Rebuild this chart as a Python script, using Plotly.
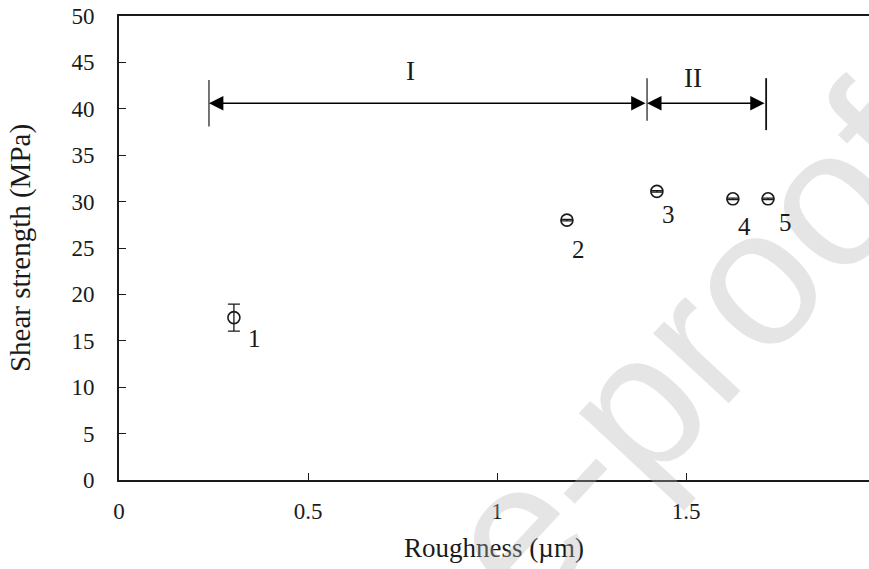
import plotly.graph_objects as go

# ---- data ----
roughness = [0.304, 1.185, 1.423, 1.624, 1.717]
shear_strength = [17.5, 28.0, 31.1, 30.3, 30.3]
shear_error = [1.45, 0.08, 0.08, 0.08, 0.08]
point_labels = ["1", "2", "3", "4", "5"]
label_dx = [0.055, 0.03, 0.03, 0.03, 0.045]
label_dy = [-2.2, -3.2, -2.5, -3.0, -2.6]

region_bounds = [0.238, 1.397, 1.712]
region_bar_low = [38.1, 38.7, 37.7]
region_bar_high = [43.1, 43.3, 43.3]
arrow_y = 40.6
region_names = ["I", "II"]
region_label_x = [0.77, 1.518]
region_label_y = [44.1, 43.3]

x_ticks = [0, 0.5, 1, 1.5]
x_tick_text = ["0", "0.5", "1", "1.5"]
y_ticks = list(range(0, 51, 5))

W, H = 869, 569
L, R, T, B = 119, 0, 16, 89
PX_PER_X = 378.0
x_max = (W - L - R) / PX_PER_X

serif = "Liberation Serif, Times New Roman, serif"
ink = "#1a1a1a"

fig = go.Figure()

fig.add_trace(go.Scatter(
    x=roughness, y=shear_strength, mode="markers",
    marker=dict(symbol="circle-open", size=12, color=ink, line=dict(width=1.6, color=ink)),
    error_y=dict(type="data", array=shear_error, visible=True, color=ink, thickness=1.3, width=6),
    showlegend=False, hoverinfo="skip",
))

annotations = []

# watermark (first so it sits beneath the other annotations)
annotations.append(dict(x=0.759, y=0.287, xref="paper", yref="paper", text="e-proof",
                        showarrow=False, xanchor="center", yanchor="middle", textangle=-47,
                        font=dict(family="Liberation Sans, Arial, sans-serif", size=195,
                                  color="rgba(180,180,180,0.35)")))

for xv, yv, t, dx, dy in zip(roughness, shear_strength, point_labels, label_dx, label_dy):
    annotations.append(dict(x=xv + dx, y=yv + dy, xref="x", yref="y", text=t, showarrow=False,
                            font=dict(family=serif, size=25, color=ink)))

# double-headed arrows for the regions
for i in range(len(region_names)):
    annotations.append(dict(
        x=region_bounds[i], y=arrow_y, ax=region_bounds[i + 1], ay=arrow_y,
        xref="x", yref="y", axref="x", ayref="y", text="", showarrow=True,
        arrowhead=2, startarrowhead=2, arrowside="end+start", arrowsize=1.8,
        startarrowsize=1.8, arrowwidth=1.6, arrowcolor="black", standoff=0, startstandoff=0))
    annotations.append(dict(x=region_label_x[i], y=region_label_y[i], xref="x", yref="y",
                            text=region_names[i], showarrow=False,
                            font=dict(family=serif, size=27, color=ink)))

# partially visible tick label "2" beyond the window edge
annotations.append(dict(x=2 / x_max, y=0, xref="paper", yref="paper", text="2", showarrow=False,
                        xanchor="center", yanchor="middle", yshift=-31,
                        font=dict(family=serif, size=23, color=ink)))

shapes = []
bar_colors = ["#666666", "#666666", "#111111"]
for xb, lo, hi, c in zip(region_bounds, region_bar_low, region_bar_high, bar_colors):
    shapes.append(dict(type="line", x0=xb, x1=xb, y0=lo, y1=hi, xref="x", yref="y",
                       line=dict(color=c, width=1.8)))

fig.update_layout(
    width=W, height=H, margin=dict(l=L, r=R, t=T, b=B),
    paper_bgcolor="white", plot_bgcolor="white",
    annotations=annotations, shapes=shapes,
    font=dict(family=serif, size=23, color=ink),
    xaxis=dict(range=[0, x_max], tickvals=x_ticks, ticktext=x_tick_text,
               ticks="inside", ticklen=7, tickwidth=1.3, tickcolor=ink,
               showline=True, linecolor=ink, linewidth=2, mirror=True,
               showgrid=False, zeroline=False, ticklabelstandoff=9,
               tickfont=dict(family=serif, size=23, color=ink),
               title=dict(text="Roughness (µm)", standoff=16,
                          font=dict(family=serif, size=27, color=ink))),
    yaxis=dict(range=[0, 50], tickvals=y_ticks, ticks="inside", ticklen=7, tickwidth=1.3,
               tickcolor=ink, showline=True, linecolor=ink, linewidth=2, mirror=False,
               showgrid=False, zeroline=False, ticklabelstandoff=18,
               tickfont=dict(family=serif, size=23, color=ink),
               title=dict(text="Shear strength (MPa)", standoff=32,
                          font=dict(family=serif, size=29, color=ink))),
)

fig.write_html("out.html")
